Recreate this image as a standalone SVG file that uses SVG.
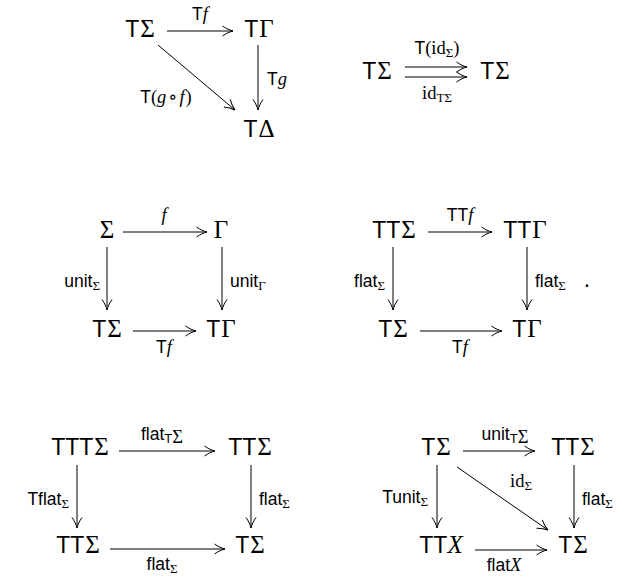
<svg xmlns="http://www.w3.org/2000/svg" width="626" height="578" viewBox="0 0 626 578">
<defs>
<marker id="ah" viewBox="0 0 12 12" refX="11" refY="6" markerWidth="12" markerHeight="12" markerUnits="userSpaceOnUse" orient="auto">
<path d="M0.5,1 C4,3.5 8,5.3 11,6 C8,6.7 4,8.5 0.5,11" fill="none" stroke="#000" stroke-width="1"/>
</marker>
<style>
.o{font-family:"Liberation Sans",sans-serif;font-size:23px;fill:#000}
.o .s{font-size:25px}
.s{font-family:"Liberation Serif","DejaVu Serif",serif}
.i{font-family:"Liberation Serif","DejaVu Serif",serif;font-style:italic}
.l{font-family:"Liberation Sans",sans-serif;font-size:17.5px;fill:#000}
.l .s,.l .i{font-size:18.5px}
.l .sub{font-size:13px}
.a{stroke:#000;stroke-width:1;fill:none;marker-end:url(#ah)}
</style>
</defs>
<rect width="626" height="578" fill="#fff"/>

<!-- Diagram 1 -->
<g id="d1-TSigma"><text class="o" x="140" y="37" text-anchor="middle">T<tspan class="s" dx="1">Σ</tspan></text></g>
<g id="d1-TGamma"><text class="o" x="259" y="37" text-anchor="middle">T<tspan class="s" dx="1">Γ</tspan></text></g>
<g id="d1-TDelta"><text class="o" x="259" y="137" text-anchor="middle">T<tspan class="s" dx="1">Δ</tspan></text></g>

<!-- Diagram 2 -->
<g id="d2-TSigma-a"><text class="o" x="377" y="79" text-anchor="middle">T<tspan class="s" dx="1">Σ</tspan></text></g>
<g id="d2-TSigma-b"><text class="o" x="495" y="79" text-anchor="middle">T<tspan class="s" dx="1">Σ</tspan></text></g>

<!-- Diagram 3 -->
<g id="d3-Sigma"><text class="o" x="107" y="238" text-anchor="middle"><tspan class="s">Σ</tspan></text></g>
<g id="d3-Gamma"><text class="o" x="221" y="238" text-anchor="middle"><tspan class="s">Γ</tspan></text></g>
<g id="d3-TSigma"><text class="o" x="107" y="337" text-anchor="middle">T<tspan class="s" dx="1">Σ</tspan></text></g>
<g id="d3-TGamma"><text class="o" x="221" y="337" text-anchor="middle">T<tspan class="s" dx="1">Γ</tspan></text></g>

<!-- Diagram 4 -->
<g id="d4-TTSigma"><text class="o" x="394" y="238" text-anchor="middle">TT<tspan class="s" dx="1">Σ</tspan></text></g>
<g id="d4-TTGamma"><text class="o" x="525" y="238" text-anchor="middle">TT<tspan class="s" dx="1">Γ</tspan></text></g>
<g id="d4-TSigma"><text class="o" x="393" y="337" text-anchor="middle">T<tspan class="s" dx="1">Σ</tspan></text></g>
<g id="d4-TGamma"><text class="o" x="527" y="337" text-anchor="middle">T<tspan class="s" dx="1">Γ</tspan></text></g>
<g id="d4-period"><text class="o" x="587" y="287" text-anchor="middle">.</text></g>

<!-- Diagram 5 -->
<g id="d5-TTTSigma"><text class="o" x="80" y="455" text-anchor="middle">TTT<tspan class="s" dx="1">Σ</tspan></text></g>
<g id="d5-TTSigma-a"><text class="o" x="250" y="455" text-anchor="middle">TT<tspan class="s" dx="1">Σ</tspan></text></g>
<g id="d5-TTSigma-b"><text class="o" x="78" y="553" text-anchor="middle">TT<tspan class="s" dx="1">Σ</tspan></text></g>
<g id="d5-TSigma"><text class="o" x="250" y="553" text-anchor="middle">T<tspan class="s" dx="1">Σ</tspan></text></g>

<!-- Diagram 6 -->
<g id="d6-TSigma-a"><text class="o" x="436" y="455" text-anchor="middle">T<tspan class="s" dx="1">Σ</tspan></text></g>
<g id="d6-TTSigma"><text class="o" x="573" y="455" text-anchor="middle">TT<tspan class="s" dx="1">Σ</tspan></text></g>
<g id="d6-TTX"><text class="o" x="441" y="553" text-anchor="middle">TT<tspan class="i" style="font-size:25px">X</tspan></text></g>
<g id="d6-TSigma-b"><text class="o" x="573" y="553" text-anchor="middle">T<tspan class="s" dx="1">Σ</tspan></text></g>

<g id="connectors">
<!-- D1 -->
<line class="a" x1="167" y1="31" x2="233" y2="31"/>
<text class="l" x="200" y="20" text-anchor="middle">T<tspan class="i">f</tspan></text>
<line class="a" x1="258" y1="45" x2="258" y2="110"/>
<text class="l" x="267" y="85">T<tspan class="i">g</tspan></text>
<line class="a" x1="158" y1="45" x2="235" y2="110"/>
<text class="l" x="166" y="103" text-anchor="middle">T<tspan class="s">(</tspan><tspan class="i">g</tspan><tspan class="s" dx="2">∘</tspan><tspan class="i" dx="2">f</tspan><tspan class="s" dx="1">)</tspan></text>
<!-- D2 -->
<line class="a" x1="405" y1="67" x2="467" y2="67"/>
<line class="a" x1="405" y1="77" x2="467" y2="77"/>
<text class="l" x="437" y="54" text-anchor="middle">T<tspan class="s">(id</tspan><tspan class="s sub" dy="3">Σ</tspan><tspan class="s" dy="-3">)</tspan></text>
<text class="l" x="437" y="99" text-anchor="middle"><tspan class="s">id</tspan><tspan class="s sub" dy="3">TΣ</tspan></text>
<!-- D3 -->
<line class="a" x1="123" y1="232" x2="207" y2="232"/>
<text class="l" x="164" y="221" text-anchor="middle"><tspan class="i">f</tspan></text>
<line class="a" x1="107" y1="247" x2="107" y2="310"/>
<text class="l" x="100" y="287" text-anchor="end">unit<tspan class="s sub" dy="3">Σ</tspan></text>
<line class="a" x1="222" y1="247" x2="222" y2="310"/>
<text class="l" x="230" y="287">unit<tspan class="s sub" dy="3">Γ</tspan></text>
<line class="a" x1="133" y1="331" x2="196" y2="331"/>
<text class="l" x="164" y="353" text-anchor="middle">T<tspan class="i">f</tspan></text>
<!-- D4 -->
<line class="a" x1="428" y1="232" x2="492" y2="232"/>
<text class="l" x="460" y="221" text-anchor="middle">TT<tspan class="i">f</tspan></text>
<line class="a" x1="393" y1="247" x2="393" y2="310"/>
<text class="l" x="385" y="287" text-anchor="end">flat<tspan class="s sub" dy="3">Σ</tspan></text>
<line class="a" x1="527" y1="247" x2="527" y2="310"/>
<text class="l" x="535" y="287">flat<tspan class="s sub" dy="3">Σ</tspan></text>
<line class="a" x1="420" y1="331" x2="502" y2="331"/>
<text class="l" x="460" y="353" text-anchor="middle">T<tspan class="i">f</tspan></text>
<!-- D5 -->
<line class="a" x1="119" y1="451" x2="215" y2="451"/>
<text class="l" x="162" y="440" text-anchor="middle">flat<tspan class="sub" dy="3">T<tspan class="s">Σ</tspan></tspan></text>
<line class="a" x1="77" y1="465" x2="77" y2="528"/>
<text class="l" x="69" y="505" text-anchor="end">Tflat<tspan class="s sub" dy="3">Σ</tspan></text>
<line class="a" x1="251" y1="465" x2="251" y2="528"/>
<text class="l" x="259" y="505">flat<tspan class="s sub" dy="3">Σ</tspan></text>
<line class="a" x1="110" y1="549" x2="225" y2="549"/>
<text class="l" x="162" y="570" text-anchor="middle">flat<tspan class="s sub" dy="3">Σ</tspan></text>
<!-- D6 -->
<line class="a" x1="463" y1="451" x2="535" y2="451"/>
<text class="l" x="505" y="440" text-anchor="middle">unit<tspan class="sub" dy="3">T<tspan class="s">Σ</tspan></tspan></text>
<line class="a" x1="437" y1="465" x2="437" y2="528"/>
<text class="l" x="428" y="503" text-anchor="end">Tunit<tspan class="s sub" dy="3">Σ</tspan></text>
<line class="a" x1="574" y1="465" x2="574" y2="528"/>
<text class="l" x="582" y="505">flat<tspan class="s sub" dy="3">Σ</tspan></text>
<line class="a" x1="457" y1="467" x2="548" y2="530"/>
<text class="l" x="521" y="487" text-anchor="middle"><tspan class="s">id</tspan><tspan class="s sub" dy="3">Σ</tspan></text>
<line class="a" x1="475" y1="550" x2="547" y2="550"/>
<text class="l" x="504" y="571" text-anchor="middle">flat<tspan class="i">X</tspan></text>
</g>
</svg>
